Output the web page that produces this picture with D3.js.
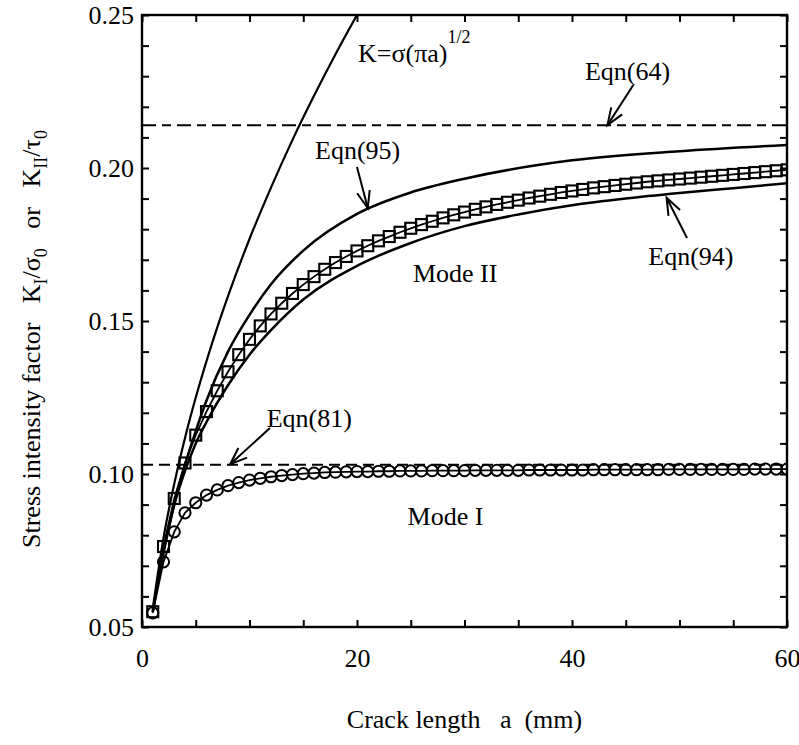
<!DOCTYPE html>
<html><head><meta charset="utf-8">
<script src="https://cdn.jsdelivr.net/npm/d3@7"></script>
<style>
body{margin:0;background:#fff}
svg{display:block}
text{font-family:"Liberation Serif","Times New Roman",serif;fill:#000;white-space:pre}
</style>
</head><body>
<script>
// ---- data ----
const crackA = [1,2,3,4,5,6,7,8,9,10,11,12,13,14,15,16,17,18,19,20,21,22,23,24,25,26,27,28,29,30,31,32,33,34,35,36,37,38,39,40,41,42,43,44,45,46,47,48,49,50,51,52,53,54,55,56,57,58,59,60];
const modeI = [0.0546,0.0713,0.0811,0.0873,0.0906,0.0931,0.0948,0.0962,0.0972,0.0980,0.0986,0.0991,0.0995,0.0998,0.1001,0.1003,0.1005,0.1006,0.1007,0.1008,0.1008,0.1009,0.1009,0.1010,0.1010,0.1010,0.1011,0.1011,0.1011,0.1011,0.1012,0.1012,0.1012,0.1012,0.1012,0.1013,0.1013,0.1013,0.1013,0.1013,0.1013,0.1014,0.1014,0.1014,0.1014,0.1014,0.1014,0.1014,0.1015,0.1015,0.1015,0.1015,0.1015,0.1015,0.1015,0.1015,0.1016,0.1016,0.1016,0.1016];
const modeII = [0.0550,0.0763,0.0920,0.1036,0.1127,0.1204,0.1272,0.1334,0.1390,0.1440,0.1484,0.1523,0.1558,0.1590,0.1619,0.1645,0.1669,0.1691,0.1711,0.1729,0.1746,0.1762,0.1776,0.1790,0.1803,0.1815,0.1826,0.1837,0.1847,0.1856,0.1865,0.1873,0.1881,0.1888,0.1895,0.1902,0.1908,0.1914,0.1920,0.1925,0.1930,0.1935,0.1939,0.1943,0.1947,0.1951,0.1955,0.1958,0.1961,0.1964,0.1967,0.1970,0.1973,0.1976,0.1979,0.1982,0.1985,0.1988,0.1991,0.1994];
const sqrtA = [1,2,3,4,5,6,8,10,12,14,16,18,20];
const sqrtK = [0.0559,0.0791,0.0968,0.1118,0.1250,0.1369,0.1581,0.1768,0.1936,0.2092,0.2236,0.2372,0.2500];
const eqn95A = [1,2,3,4,5,6,8,10,12,15,20,25,30,40,50,60];
const eqn95K = [0.055,0.074,0.090,0.103,0.114,0.124,0.140,0.152,0.162,0.173,0.185,0.192,0.1965,0.2025,0.2055,0.2075];
const eqn94A = [1,2,3,4,5,6,8,10,12,15,20,25,30,35,40,45,50,55,60];
const eqn94K = [0.055,0.075,0.090,0.101,0.110,0.117,0.129,0.139,0.147,0.157,0.168,0.1755,0.181,0.1848,0.1878,0.1900,0.1918,0.1934,0.1950];
const eqn64Level = 0.214;
const eqn81Level = 0.103;
const xTickValues = [0,5,10,15,20,25,30,35,40,45,50,55,60];
const xTickLabels = [0,20,40,60];
const yTickValues = [0.05,0.06,0.07,0.08,0.09,0.10,0.11,0.12,0.13,0.14,0.15,0.16,0.17,0.18,0.19,0.20,0.21,0.22,0.23,0.24,0.25];
const yTickLabels = [0.05,0.10,0.15,0.20,0.25];

// ---- layout ----
const W = 799, H = 745;
const m = {left:142, right:12, top:15, bottom:118};
const svg = d3.select("body").append("svg").attr("width",W).attr("height",H);
const x = d3.scaleLinear().domain([0,60]).range([m.left, W-m.right]);
const y = d3.scaleLinear().domain([0.05,0.25]).range([H-m.bottom, m.top]);
const FS = 26;

svg.append("defs").append("marker")
  .attr("id","arr").attr("markerUnits","userSpaceOnUse")
  .attr("markerWidth",40).attr("markerHeight",40)
  .attr("refX",0).attr("refY",0).attr("viewBox","-25 -20 40 40")
  .attr("orient","auto")
  .append("path").attr("d","M-17,-6.5 L0,0 L-17,6.5")
  .attr("fill","none").attr("stroke","#000").attr("stroke-width",2);

svg.append("clipPath").attr("id","pc").append("rect")
  .attr("x",m.left).attr("y",m.top).attr("width",W-m.left-m.right).attr("height",H-m.top-m.bottom);

const g = svg.append("g").attr("clip-path","url(#pc)");

g.append("line").attr("x1",x(0)).attr("x2",x(60)).attr("y1",y(eqn64Level)).attr("y2",y(eqn64Level))
  .attr("stroke","#000").attr("stroke-width",2).attr("stroke-dasharray","14,6,9,6");
g.append("line").attr("x1",x(0)).attr("x2",x(60)).attr("y1",y(eqn81Level)).attr("y2",y(eqn81Level))
  .attr("stroke","#000").attr("stroke-width",2).attr("stroke-dasharray","11,6");

const smooth = d3.line().x(d=>x(d[0])).y(d=>y(d[1])).curve(d3.curveMonotoneX);
const straight = d3.line().x(d=>x(d[0])).y(d=>y(d[1]));
function drawLine(xs, ys, gen, w){
  g.append("path").attr("d", gen(xs.map((v,i)=>[v, ys[i]])))
    .attr("fill","none").attr("stroke","#000").attr("stroke-width",w);
}
drawLine(sqrtA, sqrtK, smooth, 2.2);
drawLine(eqn95A, eqn95K, smooth, 2.5);
drawLine(eqn94A, eqn94K, smooth, 2.5);
drawLine(crackA, modeII, straight, 1.8);
drawLine(crackA, modeI, straight, 1.8);

g.selectAll("rect.sq").data(crackA).join("rect").attr("class","sq")
  .attr("x",(d)=>x(d)-5.5).attr("y",(d,i)=>y(modeII[i])-5.5)
  .attr("width",11).attr("height",11)
  .attr("fill","none").attr("stroke","#000").attr("stroke-width",2.1);
g.selectAll("circle.ci").data(crackA).join("circle").attr("class","ci")
  .attr("cx",d=>x(d)).attr("cy",(d,i)=>y(modeI[i])).attr("r",5.6)
  .attr("fill","none").attr("stroke","#000").attr("stroke-width",2);

// axes
const ax = svg.append("g");
ax.append("g").attr("transform",`translate(0,${y(0.05)})`)
  .call(d3.axisBottom(x).tickValues(xTickValues).tickSize(-7).tickPadding(22)
    .tickFormat(d=> xTickLabels.includes(d) ? d : ""));
ax.append("g").attr("transform",`translate(0,${y(0.25)})`)
  .call(d3.axisTop(x).tickValues(xTickValues).tickSize(-7).tickFormat(""));
ax.append("g").attr("transform",`translate(${x(0)},0)`)
  .call(d3.axisLeft(y).tickValues(yTickValues).tickSize(-7).tickPadding(8)
    .tickFormat(d=> yTickLabels.some(v=>Math.abs(v-d)<1e-9) ? d3.format(".2f")(d) : ""));
ax.append("g").attr("transform",`translate(${x(60)},0)`)
  .call(d3.axisRight(y).tickValues(yTickValues).tickSize(-7).tickFormat(""));
ax.selectAll(".domain").remove();
ax.selectAll(".tick line").attr("stroke","#000").attr("stroke-width",2);
ax.selectAll(".tick text").attr("font-size",FS).attr("font-family",null);
svg.append("rect").attr("x",x(0)).attr("y",y(0.25)).attr("width",x(60)-x(0)).attr("height",y(0.05)-y(0.25))
  .attr("fill","none").attr("stroke","#000").attr("stroke-width",2.4);

// axis titles
svg.append("text").attr("x",(x(0)+x(60))/2).attr("y",728).attr("text-anchor","middle")
  .attr("font-size",FS).text("Crack length   a  (mm)");
const yt = svg.append("text").attr("transform",`translate(40,548) rotate(-90)`).attr("font-size",FS);
yt.append("tspan").text("Stress intensity factor   K");
yt.append("tspan").attr("font-size",18).attr("dy",7).text("I");
yt.append("tspan").attr("dy",-7).text("/σ");
yt.append("tspan").attr("font-size",18).attr("dy",7).text("0");
yt.append("tspan").attr("dy",-7).text("   or   K");
yt.append("tspan").attr("font-size",18).attr("dy",7).text("II");
yt.append("tspan").attr("dy",-7).text("/τ");
yt.append("tspan").attr("font-size",18).attr("dy",7).text("0");

// annotations (anchors in data units)
const notes = [
  {t:"Eqn(64)", a:41.2, v:0.2288, from:[45.7,0.2271], to:[43.3,0.2140]},
  {t:"Eqn(95)", a:16.1, v:0.2029, from:[20.0,0.2003], to:[21.0,0.1869]},
  {t:"Eqn(81)", a:11.6, v:0.1154, from:[11.9,0.1150], to:[8.2,0.1032]},
  {t:"Eqn(94)", a:47.1, v:0.1683, from:[50.7,0.1771], to:[48.8,0.1903]},
  {t:"Mode II", a:25.2, v:0.1627},
  {t:"Mode I", a:24.7, v:0.0833}
];
notes.forEach(n=>{
  svg.append("text").attr("x",x(n.a)).attr("y",y(n.v)).attr("font-size",FS).text(n.t);
  if(n.from){
    svg.append("line").attr("x1",x(n.from[0])).attr("y1",y(n.from[1]))
      .attr("x2",x(n.to[0])).attr("y2",y(n.to[1]))
      .attr("stroke","#000").attr("stroke-width",2).attr("marker-end","url(#arr)");
  }
});
const kt = svg.append("text").attr("x",x(20.1)).attr("y",y(0.2346)).attr("font-size",FS);
kt.append("tspan").text("K=σ(πa)");
kt.append("tspan").attr("font-size",18).attr("dy",-19).text("1/2");
</script>
</body></html>
